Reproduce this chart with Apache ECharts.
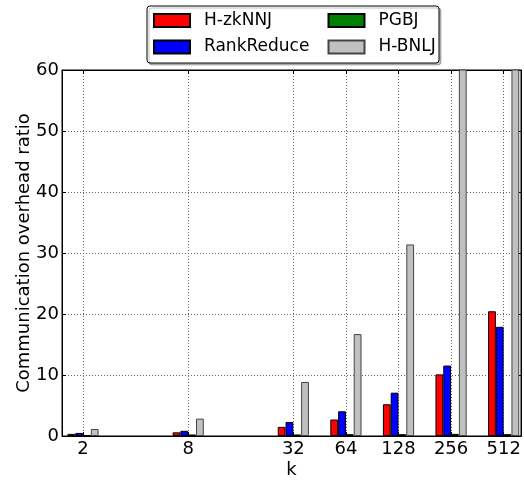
<!DOCTYPE html>
<html>
<head>
<meta charset="utf-8">
<script src="https://cdn.jsdelivr.net/npm/echarts@6/dist/echarts.min.js"></script>
<style>html,body{margin:0;padding:0;background:#fff;}#c{width:524px;height:480px;}</style>
</head>
<body>
<div id="c"></div>
<script>
const kValues = [2, 8, 32, 64, 128, 256, 512];
const hzknnj = [0.35, 0.6, 1.5, 2.7, 5.2, 10.1, 20.45];
const rankReduce = [0.5, 0.85, 2.3, 4.05, 7.1, 11.55, 17.9];
const pgbj = [0.1, 0.25, 0.25, 0.3, 0.3, 0.35, 0.3];
const hbnlj = [1.15, 2.85, 8.85, 16.7, 31.4, 65, 130];
const seriesNames = ['H-zkNNJ', 'RankReduce', 'PGBJ', 'H-BNLJ'];
const seriesColors = ['#ff0000', '#0000ff', '#008000', '#c0c0c0'];
const yMin = 0, yMax = 60, yStep = 10;

const FONT = 'DejaVu Sans';
const xPos = kValues.map(k => Math.log2(k));
const allVals = [hzknnj, rankReduce, pgbj, hbnlj];

const chart = echarts.init(document.getElementById('c'), null, {renderer: 'canvas'});

const series = allVals.map((vals, si) => ({
  name: seriesNames[si],
  type: 'bar',
  xAxisIndex: 0,
  yAxisIndex: 0,
  barWidth: 7.8,
  barGap: '0%',
  clip: true,
  data: xPos.map((x, i) => [x, vals[i]]),
  itemStyle: {
    color: seriesColors[si],
    borderColor: si === 3 ? '#444' : '#000',
    borderWidth: 1
  },
  emphasis: {disabled: true},
  animation: false
}));

const gridLine = {show: true, lineStyle: {color: '#666', type: [1, 2], width: 1}};

const legendPos = [
  {name: 'H-zkNNJ', left: 153, top: 12},
  {name: 'RankReduce', left: 153, top: 38.5},
  {name: 'PGBJ', left: 327.5, top: 12},
  {name: 'H-BNLJ', left: 327.5, top: 38.5}
];

const option = {
  animation: false,
  backgroundColor: '#fff',
  textStyle: {fontFamily: FONT},
  grid: {left: 62, right: 3, top: 70, bottom: 44, show: true, borderColor: '#000', borderWidth: 1,
    containLabel: false, outerBoundsMode: 'none'},
  graphic: [{
    type: 'rect',
    z: 0,
    shape: {x: 147, y: 6, width: 292, height: 57, r: 3},
    style: {fill: '#fff', stroke: '#000', lineWidth: 1,
      shadowColor: 'rgba(0,0,0,0.25)', shadowOffsetX: 2, shadowOffsetY: 2, shadowBlur: 0}
  }],
  legend: legendPos.map(lp => ({
    data: [lp.name],
    left: lp.left,
    top: lp.top,
    padding: 0,
    itemWidth: 36,
    itemHeight: 13,
    icon: 'rect',
    z: 5,
    selectedMode: false,
    textStyle: {fontFamily: FONT, fontSize: 17, color: '#000', padding: [0, 0, 0, 9]}
  })),
  xAxis: [{
    type: 'value',
    min: 0.6,
    max: 9.33,
    name: 'k',
    nameLocation: 'middle',
    nameGap: 25,
    nameMoveOverlap: false,
    nameTextStyle: {fontFamily: FONT, fontSize: 18, color: '#000'},
    axisLine: {show: true, onZero: false, lineStyle: {color: '#000'}},
    axisTick: {show: true, inside: true, length: 4, customValues: xPos, lineStyle: {color: '#000'}},
    axisLabel: {show: true, customValues: xPos, fontFamily: FONT, fontSize: 18, color: '#000', margin: 4,
      formatter: v => String(Math.round(Math.pow(2, v)))},
    splitLine: gridLine
  }, {
    type: 'value',
    position: 'top',
    min: 0.6,
    max: 9.33,
    axisLine: {show: true, onZero: false, lineStyle: {color: '#000'}},
    axisTick: {show: true, inside: true, length: 4, customValues: xPos, lineStyle: {color: '#000'}},
    axisLabel: {show: false},
    splitLine: {show: false}
  }],
  yAxis: [{
    type: 'value',
    min: yMin,
    max: yMax,
    interval: yStep,
    name: 'Communication overhead ratio',
    nameLocation: 'middle',
    nameGap: 29,
    nameMoveOverlap: false,
    nameTextStyle: {fontFamily: FONT, fontSize: 18, color: '#000'},
    axisLine: {show: true, lineStyle: {color: '#000'}},
    axisTick: {show: true, inside: true, length: 4, lineStyle: {color: '#000'}},
    axisLabel: {fontFamily: FONT, fontSize: 18, color: '#000', margin: 3},
    splitLine: gridLine
  }, {
    type: 'value',
    position: 'right',
    min: yMin,
    max: yMax,
    interval: yStep,
    axisLine: {show: true, lineStyle: {color: '#000'}},
    axisTick: {show: true, inside: true, length: 4, lineStyle: {color: '#000'}},
    axisLabel: {show: false},
    splitLine: {show: false}
  }],
  series: series
};
chart.setOption(option);
</script>
</body>
</html>
